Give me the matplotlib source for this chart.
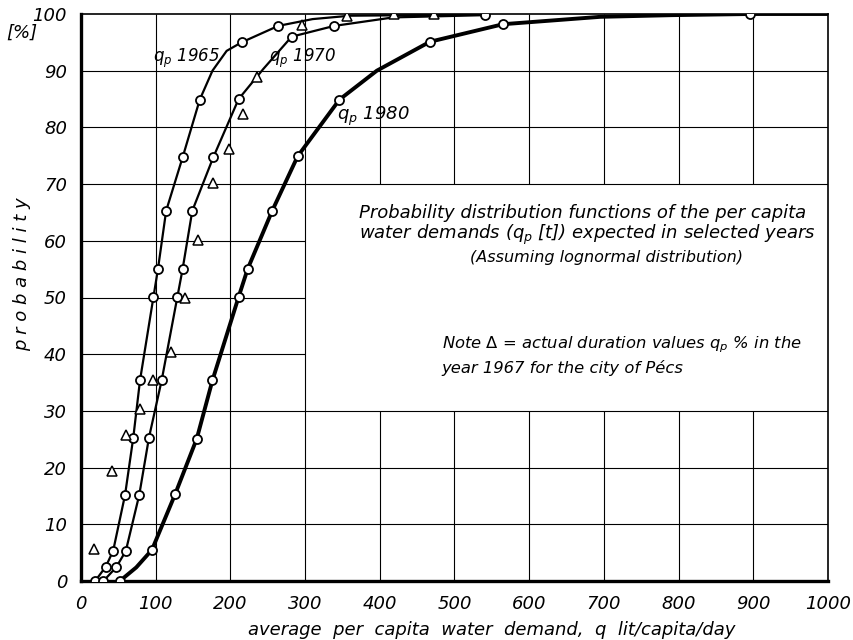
#!/usr/bin/env python3
"""
Probability distribution of per capita water demand (q_p) - 1965 / 1970 / 1980
"""

import matplotlib
matplotlib.use('Agg')
import matplotlib.pyplot as plt

plt.rcParams['font.family'] = ['DejaVu Sans']
plt.rcParams['mathtext.fontset'] = 'dejavusans'

# curve points (circles)
q1965_x = [19, 33, 43, 59, 70, 79, 97, 103, 114, 136, 159, 215, 264]
q1965_y = [0, 2.5, 5.3, 15.2, 25.3, 35.4, 50.1, 55, 65.3, 74.7, 84.9, 95, 97.9]

q1970_x = [30, 47, 60, 78, 91, 108, 129, 136, 149, 177, 211, 282, 339, 541]
q1970_y = [0, 2.4, 5.3, 15.2, 25.3, 35.4, 50.1, 55, 65.3, 74.7, 85, 96, 97.9, 99.8]

q1980_x = [52, 95, 126, 155, 176, 211, 223, 256, 290, 346, 467, 565, 896]
q1980_y = [0, 5.5, 15.3, 25.1, 35.4, 50.1, 55, 65.3, 74.9, 84.9, 95.1, 98.2, 100]

# extra points on the drawn lines (between markers)
line1965_x = [19, 33, 43, 59, 70, 79, 97, 103, 114, 136, 159, 176, 195, 215, 264, 310, 360, 541]
line1965_y = [0, 2.5, 5.3, 15.2, 25.3, 35.4, 50.1, 55, 65.3, 74.7, 84.9, 90, 93.5, 95, 97.9, 99.1, 99.7, 99.9]

line1970_x = [30, 47, 60, 78, 91, 108, 129, 136, 149, 177, 211, 244, 282, 339, 418, 541]
line1970_y = [0, 2.4, 5.3, 15.2, 25.3, 35.4, 50.1, 55, 65.3, 74.7, 85, 90.3, 96, 97.9, 99.4, 99.8]

line1980_x = [52, 74, 95, 126, 155, 176, 211, 223, 256, 290, 346, 396, 467, 565, 695, 792, 896, 1000]
line1980_y = [0, 2.4, 5.5, 15.3, 25.1, 35.4, 50.1, 55, 65.3, 74.9, 84.9, 90, 95.1, 98.2, 99.5, 99.8, 100, 100]

# actual duration values, Pecs 1967 (triangles)
actual_x = [17, 42, 60, 79, 97, 120, 139, 157, 177, 198, 217, 235, 296, 356, 419, 472]
actual_y = [5.7, 19.4, 25.8, 30.4, 35.4, 40.3, 50, 60.1, 70.2, 76.2, 82.4, 88.9, 98.1, 99.7, 100, 100]

x_ticks = [0, 100, 200, 300, 400, 500, 600, 700, 800, 900, 1000]
y_ticks = [0, 10, 20, 30, 40, 50, 60, 70, 80, 90, 100]

W, H = 854, 640
fig = plt.figure(figsize=(W / 100, H / 100), dpi=100)
ax = fig.add_axes([81 / W, 1 - 581 / H, (828 - 81) / W, (581 - 14) / H])
ax.set_xlim(0, 1000)
ax.set_ylim(0, 100)

# grid, with a blank box for the caption (x 300-1000, y 30-70)
for xv in x_ticks[1:-1]:
    if xv > 300:
        ax.vlines(xv, 0, 30, color='black', lw=0.8, zorder=1)
        ax.vlines(xv, 70, 100, color='black', lw=0.8, zorder=1)
    else:
        ax.vlines(xv, 0, 100, color='black', lw=0.8, zorder=1)
for yv in y_ticks[1:-1]:
    if 30 < yv < 70:
        ax.hlines(yv, 0, 300, color='black', lw=0.8, zorder=1)
    else:
        ax.hlines(yv, 0, 1000, color='black', lw=0.8, zorder=1)

# curves
ax.plot(line1965_x, line1965_y, color='black', lw=1.6, zorder=3)
ax.plot(line1970_x, line1970_y, color='black', lw=1.6, zorder=3)
ax.plot(line1980_x, line1980_y, color='black', lw=2.8, zorder=3)

mk = dict(ls='none', marker='o', ms=6.5, mfc='white', mec='black', mew=1.3, zorder=4)
ax.plot(q1965_x, q1965_y, **mk)
ax.plot(q1970_x, q1970_y, **mk)
ax.plot(q1980_x, q1980_y, **mk)
ax.plot(actual_x, actual_y, ls='none', marker='^', ms=7, mfc='white',
        mec='black', mew=1.1, zorder=4)

# axes styling
for side in ['top', 'right']:
    ax.spines[side].set_linewidth(1.2)
for side in ['left', 'bottom']:
    ax.spines[side].set_linewidth(2.4)
ax.set_xticks(x_ticks)
ax.set_yticks(y_ticks)
ax.set_xticklabels([str(v) for v in x_ticks], fontsize=13, style='italic')
ax.set_yticklabels([str(v) for v in y_ticks], fontsize=13, style='italic')
ax.tick_params(length=0, pad=10)

# labels
fig.text(22 / W, 1 - 33 / H, '[%]', fontsize=13, style='italic', ha='center', va='center')
fig.text(22 / W, 1 - 274 / H, 'p r o b a b i l i t y', fontsize=13, style='italic',
         rotation=90, ha='center', va='center')
fig.text(492 / W, 1 - 630 / H, 'average  per  capita  water  demand,  q  lit/capita/day',
         fontsize=13, style='italic', ha='center', va='center')

# curve names
ax.text(141, 92.2, r'$q_p$ 1965', fontsize=12, style='italic', ha='center', va='center')
ax.text(296, 92.2, r'$q_p$ 1970', fontsize=12, style='italic', ha='center', va='center')
ax.text(391, 82, r'$q_p$ 1980', fontsize=13, style='italic', ha='center', va='center')

# caption
ax.text(372, 64.9, 'Probability distribution functions of the per capita',
        fontsize=13, style='italic', ha='left', va='center')
ax.text(372, 61.0, r'water demands ($q_p$ [t]) expected in selected years',
        fontsize=13, style='italic', ha='left', va='center')
ax.text(521, 57.1, '(Assuming lognormal distribution)',
        fontsize=11.5, style='italic', ha='left', va='center')
ax.text(483, 41.6, r'Note $\Delta$ = actual duration values $q_p$ % in the',
        fontsize=11.8, style='italic', ha='left', va='center')
ax.text(483, 37.6, 'year 1967 for the city of Pécs',
        fontsize=11.8, style='italic', ha='left', va='center')

fig.savefig('out.png', dpi=100)
